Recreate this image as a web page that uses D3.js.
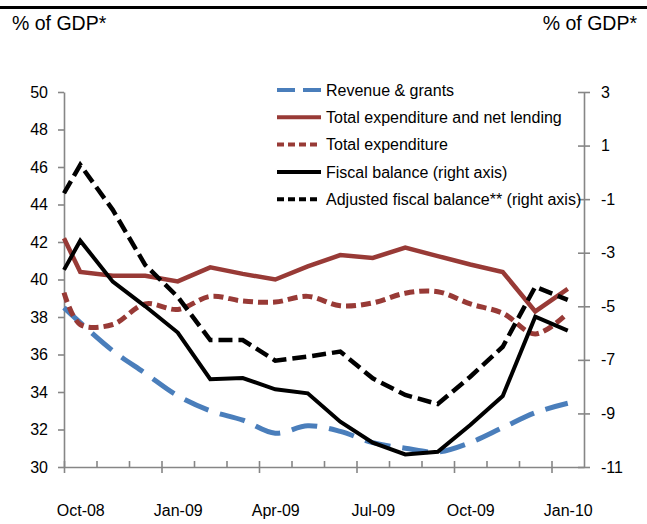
<!DOCTYPE html>
<html>
<head>
<meta charset="utf-8">
<script src="https://cdn.jsdelivr.net/npm/d3@7"></script>
<style>
  body { margin: 0; background: #fff; }
  svg text { font-family: 'Liberation Sans', Arial, sans-serif; fill: #000; }
</style>
</head>
<body>
<div id="chart"></div>
<script>
// month categories (Oct-08 .. Jan-10), labels shown every 3rd
const months = ['Oct-08', 'Nov-08', 'Dec-08', 'Jan-09', 'Feb-09', 'Mar-09', 'Apr-09', 'May-09',
  'Jun-09', 'Jul-09', 'Aug-09', 'Sep-09', 'Oct-09', 'Nov-09', 'Dec-09', 'Jan-10'];

// position of each observation in months from Oct-08 (first one sits half a month earlier)
const periods = [-0.5, 0, 1, 2, 3, 4, 5, 6, 7, 8, 9, 10, 11, 12, 13, 14, 15];

// left axis series, % of GDP
const revenue = [38.5, 37.7, 36.2, 35.0, 33.8, 33.0, 32.5, 31.8, 32.2, 31.9, 31.3, 31.0, 30.8, 31.3, 32.1, 32.9, 33.4];
const expNetLending = [42.2, 40.4, 40.2, 40.2, 39.9, 40.65, 40.3, 40.0, 40.7, 41.3, 41.15, 41.7, 41.25, 40.8, 40.4, 38.3, 39.5];
const totalExp = [39.3, 37.6, 37.6, 38.7, 38.4, 39.1, 38.85, 38.8, 39.1, 38.6, 38.75, 39.27, 39.35, 38.7, 38.2, 37.1, 38.2];

// right axis series, % of GDP
const fiscalBalance = [-3.64, -2.55, -4.08, -5.0, -5.98, -7.72, -7.68, -8.1, -8.25, -9.31, -10.09, -10.53, -10.43, -9.43, -8.35, -5.39, -5.91];
const adjBalance = [-0.78, 0.28, -1.4, -3.46, -4.65, -6.26, -6.26, -7.03, -6.88, -6.69, -7.69, -8.31, -8.65, -7.63, -6.51, -4.27, -4.76];

const leftTicks = [30, 32, 34, 36, 38, 40, 42, 44, 46, 48, 50];
const rightTicks = [3, 1, -1, -3, -5, -7, -9, -11];

const width = 647;
const height = 524;
const margin = { top: 92, right: 63, bottom: 57, left: 64 };
const axisColor = '#868686';

const svg = d3.select('#chart')
  .append('svg')
  .attr('width', width)
  .attr('height', height);

// top rule
svg.append('line')
  .attr('x1', 0).attr('x2', width)
  .attr('y1', 7.5).attr('y2', 7.5)
  .attr('stroke', '#000')
  .attr('stroke-width', 3);

// axis titles
svg.append('text')
  .attr('x', 12).attr('y', 30)
  .attr('font-size', 19.5)
  .text('% of GDP*');
svg.append('text')
  .attr('x', 637).attr('y', 30)
  .attr('font-size', 19.5)
  .attr('text-anchor', 'end')
  .text('% of GDP*');

// scales
const x = d3.scaleLinear()
  .domain([-0.5, months.length - 0.5])
  .range([margin.left, width - margin.right]);

const yLeft = d3.scaleLinear()
  .domain([30, 50])
  .range([height - margin.bottom, margin.top]);

const yRight = d3.scaleLinear()
  .domain([-11, 3])
  .range([height - margin.bottom, margin.top]);

// Y axis left
svg.append('g')
  .attr('transform', `translate(${margin.left},0)`)
  .call(d3.axisLeft(yLeft).tickValues(leftTicks).tickSizeInner(6).tickSizeOuter(0).tickPadding(10)
    .tickFormat((d) => String(d)));

// Y axis right (ticks cross the line)
const rightAxis = svg.append('g')
  .attr('transform', `translate(${width - margin.right},0)`)
  .call(d3.axisRight(yRight).tickValues(rightTicks).tickSizeInner(6).tickSizeOuter(0).tickPadding(11)
    .tickFormat((d) => String(d)));
rightAxis.selectAll('.tick')
  .append('line')
  .attr('x2', -6);

// X axis: minor ticks every month boundary (inside), major every quarter (crossing)
const boundaries = d3.range(months.length + 1).map((i) => i - 0.5);
const xAxisY = height - margin.bottom;

svg.append('g')
  .attr('class', 'xMinor')
  .attr('transform', `translate(0,${xAxisY})`)
  .call(d3.axisBottom(x).tickValues(boundaries.slice(0, -1)).tickSizeInner(-6).tickSizeOuter(0).tickFormat(''));

const majorBounds = boundaries.filter((b, i) => i % 3 === 0 && i < months.length);
svg.append('g')
  .attr('class', 'xMajor')
  .attr('transform', `translate(0,${xAxisY})`)
  .call(d3.axisBottom(x).tickValues(majorBounds).tickSizeInner(6).tickSizeOuter(0).tickFormat(''))
  .call((g) => g.select('.domain').remove());

const labelIdx = d3.range(months.length).filter((i) => i % 3 === 0);
svg.append('g')
  .attr('class', 'xLabels')
  .attr('transform', `translate(0,${xAxisY})`)
  .call(d3.axisBottom(x).tickValues(labelIdx).tickSize(0).tickPadding(38).tickFormat((i) => months[i]))
  .call((g) => g.select('.domain').remove());

// axis styling
svg.selectAll('.domain, .tick line')
  .attr('stroke', axisColor)
  .attr('stroke-width', 1.6);
svg.selectAll('.tick text')
  .attr('font-size', 16)
  .attr('font-family', null);

// series
const series = [
  { name: 'Revenue & grants', values: revenue, scale: yLeft, color: '#4a7ebb', width: 5, dash: '26,12', curve: d3.curveCatmullRom },
  { name: 'Total expenditure and net lending', values: expNetLending, scale: yLeft, color: '#983a36', width: 4.5, dash: null, curve: d3.curveLinear },
  { name: 'Total expenditure', values: totalExp, scale: yLeft, color: '#983a36', width: 5, dash: '10,5', curve: d3.curveCatmullRom },
  { name: 'Fiscal balance  (right axis)', values: fiscalBalance, scale: yRight, color: '#000', width: 4, dash: null, curve: d3.curveLinear },
  { name: 'Adjusted fiscal balance** (right axis)', values: adjBalance, scale: yRight, color: '#000', width: 4.5, dash: '14,6', curve: d3.curveLinear },
];

for (const s of series) {
  const line = d3.line()
    .x((d, i) => x(periods[i]))
    .y((d) => s.scale(d))
    .curve(s.curve);

  svg.append('path')
    .datum(s.values)
    .attr('d', line)
    .attr('fill', 'none')
    .attr('stroke', s.color)
    .attr('stroke-width', s.width)
    .attr('stroke-dasharray', s.dash)
    .attr('stroke-linejoin', 'miter');
}

// legend
const legend = svg.append('g')
  .attr('transform', 'translate(277,90)');

const rows = legend.selectAll('g')
  .data(series)
  .enter()
  .append('g')
  .attr('transform', (d, i) => `translate(0,${i * 27.3})`);

rows.append('line')
  .attr('x1', 0).attr('x2', 44)
  .attr('stroke', (d) => d.color)
  .attr('stroke-width', (d) => Math.min(d.width, 4))
  .attr('stroke-dasharray', (d) => (d.dash ? (d.dash === '26,12' ? '18,8' : '7,4') : null));

rows.append('text')
  .attr('x', 49)
  .attr('dy', '0.35em')
  .attr('font-size', 16)
  .text((d) => d.name);
</script>
</body>
</html>
